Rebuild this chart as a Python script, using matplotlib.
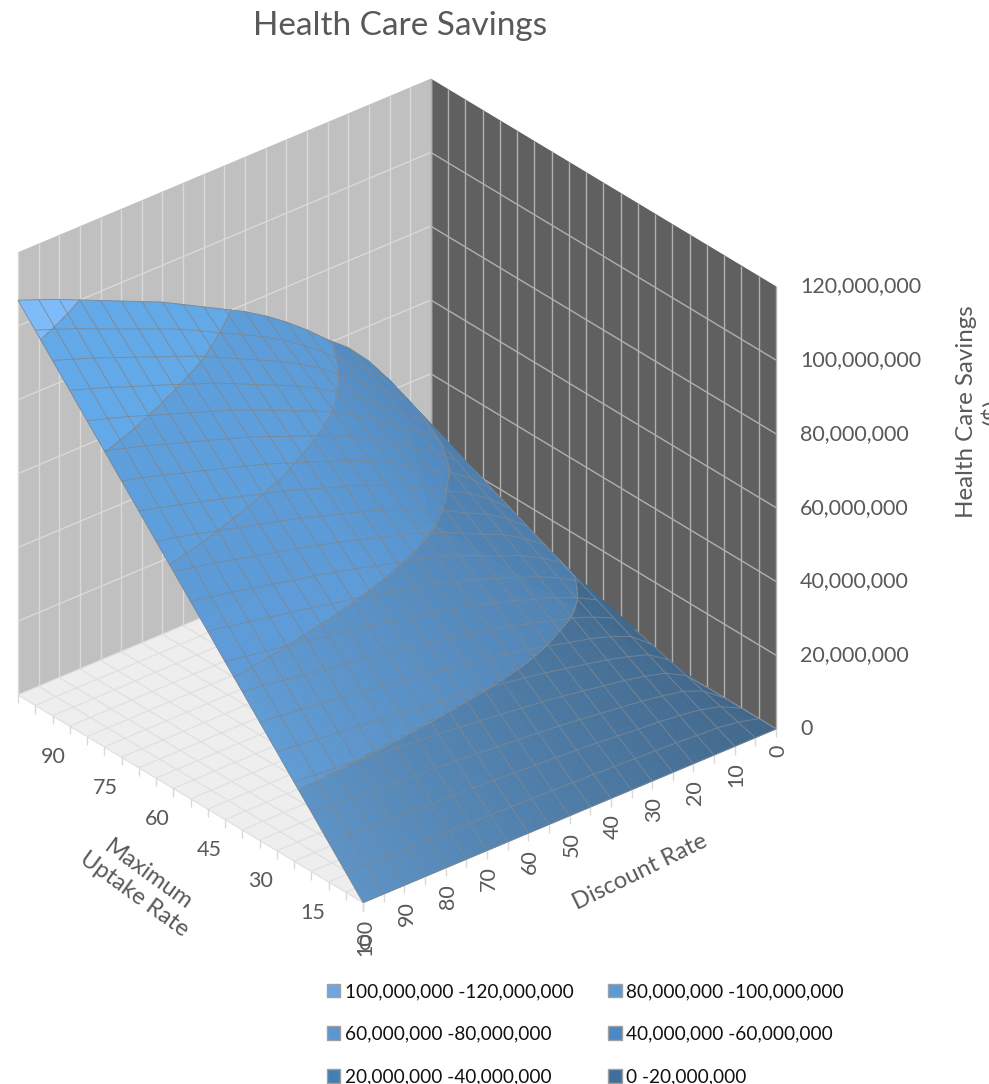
import numpy as np
import matplotlib
matplotlib.use('Agg')
import matplotlib.pyplot as plt
from matplotlib.patches import Patch
from mpl_toolkits.mplot3d import proj3d
from mpl_toolkits.mplot3d.art3d import Poly3DCollection, Line3DCollection

plt.rcParams['font.family'] = ['Lato', 'DejaVu Sans']

W, H = 989, 1084
TEXT = '#595959'

# Axis values
uptake = np.arange(0, 105, 5)
discount = np.arange(0, 105, 5)
uptake_ticks = [90, 75, 60, 45, 30, 15, 0]
discount_ticks = [100, 90, 80, 70, 60, 50, 40, 30, 20, 10, 0]
z_ticks = [0, 20, 40, 60, 80, 100, 120]
z_labels = ['0', '20,000,000', '40,000,000', '60,000,000', '80,000,000', '100,000,000', '120,000,000']

# Savings in millions: one row per uptake rate, one column per discount rate
savings = np.array([
    [0] * 21,
    [0, 1.4, 2.2, 2.5, 2.8, 3.1, 3.3, 3.5, 3.7, 3.9, 4.1, 4.2, 4.4, 4.5, 4.6, 4.8, 4.9, 5.0, 5.1, 5.2, 5.4],
    [0, 2.8, 4.3, 5.1, 5.7, 6.1, 6.6, 7.1, 7.5, 7.8, 8.1, 8.4, 8.7, 9.0, 9.3, 9.5, 9.8, 10.0, 10.3, 10.5, 10.7],
    [0, 4.2, 6.5, 7.6, 8.5, 9.2, 9.9, 10.6, 11.2, 11.7, 12.2, 12.6, 13.1, 13.5, 13.9, 14.3, 14.6, 15.0, 15.4, 15.7, 16.1],
    [0, 5.6, 8.6, 10.1, 11.3, 12.2, 13.2, 14.1, 14.9, 15.6, 16.2, 16.8, 17.4, 18.0, 18.5, 19.0, 19.5, 20.0, 20.5, 21.0, 21.4],
    [0, 7.0, 10.8, 12.6, 14.1, 15.3, 16.5, 17.6, 18.6, 19.5, 20.3, 21.0, 21.8, 22.5, 23.1, 23.8, 24.4, 25.0, 25.6, 26.2, 26.8],
    [0, 8.4, 12.9, 15.2, 17.0, 18.3, 19.8, 21.2, 22.4, 23.4, 24.3, 25.2, 26.1, 27.0, 27.8, 28.5, 29.3, 30.0, 30.8, 31.4, 32.1],
    [0, 9.8, 15.1, 17.7, 19.8, 21.4, 23.1, 24.7, 26.1, 27.3, 28.4, 29.4, 30.5, 31.5, 32.4, 33.3, 34.1, 35.0, 35.9, 36.7, 37.5],
    [0, 11.2, 17.2, 20.2, 22.6, 24.4, 26.4, 28.2, 29.8, 31.2, 32.4, 33.6, 34.8, 36.0, 37.0, 38.0, 39.0, 40.0, 41.0, 41.9, 42.8],
    [0, 12.6, 19.4, 22.7, 25.4, 27.5, 29.7, 31.7, 33.5, 35.1, 36.5, 37.8, 39.2, 40.5, 41.6, 42.8, 43.9, 45.0, 46.1, 47.2, 48.2],
    [0, 14.0, 21.5, 25.3, 28.3, 30.5, 33.0, 35.3, 37.3, 39.0, 40.5, 42.0, 43.5, 45.0, 46.3, 47.5, 48.8, 50.0, 51.3, 52.4, 53.5],
    [0, 15.4, 23.7, 27.8, 31.1, 33.6, 36.3, 38.8, 41.0, 42.9, 44.6, 46.2, 47.9, 49.5, 50.9, 52.3, 53.6, 55.0, 56.4, 57.6, 58.9],
    [0, 16.8, 25.8, 30.3, 33.9, 36.6, 39.6, 42.3, 44.7, 46.8, 48.6, 50.4, 52.2, 54.0, 55.5, 57.0, 58.5, 60.0, 61.5, 62.9, 64.2],
    [0, 18.2, 28.0, 32.8, 36.7, 39.7, 42.9, 45.8, 48.4, 50.7, 52.7, 54.6, 56.6, 58.5, 60.1, 61.8, 63.4, 65.0, 66.6, 68.1, 69.6],
    [0, 19.6, 30.1, 35.4, 39.6, 42.7, 46.2, 49.4, 52.2, 54.6, 56.7, 58.8, 60.9, 63.0, 64.8, 66.5, 68.3, 70.0, 71.8, 73.4, 74.9],
    [0, 21.0, 32.3, 37.9, 42.4, 45.8, 49.5, 52.9, 55.9, 58.5, 60.8, 63.0, 65.3, 67.5, 69.4, 71.3, 73.1, 75.0, 76.9, 78.6, 80.3],
    [0, 22.4, 34.4, 40.4, 45.2, 48.8, 52.8, 56.4, 59.6, 62.4, 64.8, 67.2, 69.6, 72.0, 74.0, 76.0, 78.0, 80.0, 82.0, 83.8, 85.6],
    [0, 23.8, 36.6, 42.9, 48.0, 51.9, 56.1, 59.9, 63.3, 66.3, 68.9, 71.4, 74.0, 76.5, 78.6, 80.8, 82.9, 85.0, 87.1, 89.1, 91.0],
    [0, 25.2, 38.7, 45.5, 50.9, 54.9, 59.4, 63.5, 67.1, 70.2, 72.9, 75.6, 78.3, 81.0, 83.3, 85.5, 87.8, 90.0, 92.3, 94.3, 96.3],
    [0, 26.6, 40.9, 48.0, 53.7, 58.0, 62.7, 67.0, 70.8, 74.1, 77.0, 79.8, 82.7, 85.5, 87.9, 90.3, 92.6, 95.0, 97.4, 99.6, 101.7],
    [0, 28.0, 43.0, 50.5, 56.5, 61.0, 66.0, 70.5, 74.5, 78.0, 81.0, 84.0, 87.0, 90.0, 92.5, 95.0, 97.5, 100.0, 102.5, 104.8, 107.0],
])

band_levels = [0, 20, 40, 60, 80, 100, 120]
band_labels = ['0 -20,000,000', '20,000,000 -40,000,000', '40,000,000 -60,000,000',
               '60,000,000 -80,000,000', '80,000,000 -100,000,000', '100,000,000 -120,000,000']
band_colors = ['#5b92c5', '#5f9bd4', '#5c9bd8', '#5d9fdd', '#62a9ea', '#7ebbfb']
legend_colors = ['#3f6f9c', '#457eb2', '#4d88c2', '#5a96d0', '#5b9bd5', '#6da7e0']
# how much each band darkens towards low discount rates, and where that starts
band_dim = [0.30, 0.20, 0.15, 0.05, 0.0, 0.0]
band_dim_from = [100, 100, 60, 60, 60, 60]

ELEV, AZIM = 30.2, 140.1

fig = plt.figure(figsize=(W / 100, H / 100), dpi=100)
S0 = 800
ax = fig.add_axes([0, 0, S0 / W, S0 / H], projection='3d', proj_type='ortho')
ax.set_xlim(0, 100)
ax.set_ylim(0, 100)
ax.set_zlim(0, 120)
BOX_Z = 0.952
ax.set_box_aspect((1, 1, BOX_Z))
ax.view_init(elev=ELEV, azim=AZIM)
ax.set_axis_off()
ax.computed_zorder = False
ax.patch.set_alpha(0)


def to_pixels(x, y, z):
    px, py, _ = proj3d.proj_transform(x, y, z, ax.get_proj())
    return ax.transData.transform((px, py))


# place the box so the floor corners land where they should on the canvas
ax.apply_aspect()
left = to_pixels(100, 100, 0)
right = to_pixels(0, 0, 0)
S = S0 * 758 / (right[0] - left[0])
x0 = 18 - left[0] * S / S0
y0 = (H - 695) - left[1] * S / S0
ax.set_position([x0 / W, y0 / H, S / W, S / H])
ax.apply_aspect()

# walls and floor
walls = [
    ([(100, 0, 0), (100, 100, 0), (100, 100, 120), (100, 0, 120)], '#c0c0c0'),
    ([(0, 0, 0), (100, 0, 0), (100, 0, 120), (0, 0, 120)], '#606060'),
    ([(0, 0, 0), (100, 0, 0), (100, 100, 0), (0, 100, 0)], '#eeeeee'),
]
for verts, color in walls:
    ax.add_collection3d(Poly3DCollection([verts], facecolors=color, edgecolors='none', zorder=1))

grid_left, grid_right, grid_floor, ticks = [], [], [], []
for v in discount:
    grid_left.append([(100, v, 0), (100, v, 120)])
    grid_floor.append([(0, v, 0), (100, v, 0)])
    ticks.append([(0, v, 0), (0, v, -2.2)])
for v in uptake:
    grid_right.append([(v, 0, 0), (v, 0, 120)])
    grid_floor.append([(v, 0, 0), (v, 100, 0)])
    ticks.append([(v, 100, 0), (v, 100, -2.2)])
for v in z_ticks[1:-1]:
    grid_left.append([(100, 0, v), (100, 100, v)])
    grid_right.append([(0, 0, v), (100, 0, v)])
ax.add_collection3d(Line3DCollection(grid_left, colors='#d9d9d9', linewidths=1, zorder=2))
ax.add_collection3d(Line3DCollection(grid_right, colors='#b0b0b0', linewidths=1, zorder=2))
ax.add_collection3d(Line3DCollection(grid_floor, colors='#e0e0e0', linewidths=0.9, zorder=2))
ax.add_collection3d(Line3DCollection(ticks, colors='#d8d8d8', linewidths=1, zorder=2))

# finer sampling of the table so the colour bands get clean edges
n_sub = 10
fine_u = np.linspace(0, 100, 20 * n_sub + 1)
fine_d = np.linspace(0, 100, 20 * n_sub + 1)
tmp = np.array([np.interp(fine_d, discount, row) for row in savings])
fine_z = np.array([np.interp(fine_u, uptake, col) for col in tmp.T]).T
D, U = np.meshgrid(fine_d, fine_u)

cell_z = (fine_z[:-1, :-1] + fine_z[1:, 1:] + fine_z[1:, :-1] + fine_z[:-1, 1:]) / 4
cell_d = (D[:-1, :-1] + D[1:, 1:]) / 2
band = np.clip(np.digitize(cell_z, band_levels) - 1, 0, 5)
rgb = np.array([matplotlib.colors.to_rgb(c) for c in band_colors])[band]
dim = np.array(band_dim)[band]
dim_from = np.array(band_dim_from)[band]
shade = 1 - dim * np.clip((dim_from - cell_d) / dim_from, 0, 1)
face = np.dstack([rgb * shade[..., None], np.ones(shade.shape)])
surf = ax.plot_surface(U, D, fine_z, facecolors=face, rstride=1, cstride=1, shade=False,
                       linewidth=0.4, antialiased=True, zorder=3)
surf.set_edgecolor(face.reshape(-1, 4))

# which cells face the viewer, so mesh lines on the far side of the fold stay hidden
e, a = np.radians(ELEV), np.radians(AZIM)
view = np.array([np.cos(e) * np.cos(a), np.cos(e) * np.sin(a), np.sin(e)])


def facing(dz_du, dz_dd):
    k = BOX_Z / 120 * 100
    return -k * dz_du * view[0] - k * dz_dd * view[1] + view[2] > 0


mesh_seg = []
grad_u = np.gradient(savings, uptake, axis=0)
grad_d = np.gradient(savings, discount, axis=1)
for i in range(21):
    for j in range(21):
        if not facing(grad_u[i, j], grad_d[i, j]):
            continue
        if i < 20:
            mesh_seg.append([(uptake[i], discount[j], savings[i, j]),
                             (uptake[i + 1], discount[j], savings[i + 1, j])])
        if j < 20:
            mesh_seg.append([(uptake[i], discount[j], savings[i, j]),
                             (uptake[i], discount[j + 1], savings[i, j + 1])])
ax.add_collection3d(Line3DCollection(mesh_seg, colors='#7d8792', linewidths=0.7, alpha=0.85, zorder=4))

# band boundaries, traced on a throwaway axes and laid on the surface
fine_gu = np.gradient(fine_z, fine_u, axis=0)
fine_gd = np.gradient(fine_z, fine_d, axis=1)
masked = np.ma.array(fine_z, mask=~facing(fine_gu, fine_gd))
scratch = plt.figure()
cs = scratch.add_subplot().contour(D, U, masked, levels=band_levels[1:-1])
for level, segs in zip(cs.levels, cs.allsegs):
    for seg in segs:
        ax.plot(seg[:, 1], seg[:, 0], np.full(len(seg), level), color='#7f8a94', lw=0.8, zorder=5)
plt.close(scratch)


def label_at(x, y, z, text, dx=0, dy=0, **kw):
    px, py, _ = proj3d.proj_transform(x, y, z, ax.get_proj())
    ax.annotate(text, xy=(px, py), xytext=(dx, dy), textcoords='offset pixels',
                annotation_clip=False, color=TEXT, **kw)


for v in uptake_ticks:
    label_at(v, 100, 0, str(v), 1, -41, ha='center', va='center', fontsize=15.5)
for v in discount_ticks:
    label_at(0, v, 0, str(v), 2, -16, ha='center', va='top', rotation=90, fontsize=15.5)
for v, txt in zip(z_ticks, z_labels):
    label_at(0, 0, v, txt, 24, 0, ha='left', va='center', fontsize=15.5)

fig.text(400 / W, 1 - 26 / H, 'Health Care Savings', ha='center', va='center', fontsize=24, color=TEXT)
fig.text(141 / W, 1 - 885 / H, 'Maximum\nUptake Rate', ha='center', va='center', rotation=-36,
         rotation_mode='anchor', fontsize=17, color=TEXT, linespacing=1.15)
fig.text(640 / W, 1 - 872 / H, 'Discount Rate', ha='center', va='center', rotation=26,
         rotation_mode='anchor', fontsize=17, color=TEXT)
fig.text(980 / W, 1 - 412 / H, 'Health Care Savings\n($)', ha='center', va='center', rotation=90,
         fontsize=17.4, color=TEXT, linespacing=1.2)

order = [5, 3, 1, 4, 2, 0]
handles = [Patch(facecolor=legend_colors[i], edgecolor='#a0a0a0', linewidth=1, label=band_labels[i]) for i in order]
fig.legend(handles=handles, ncol=2, loc='upper left', bbox_to_anchor=(310 / W, 1 - 966 / H),
           frameon=False, handlelength=0.7, handleheight=0.7, handletextpad=0.25,
           labelspacing=1.35, columnspacing=1.8, prop={'size': 13.7}, labelcolor='#111111')

fig.savefig('out.png', dpi=100)
